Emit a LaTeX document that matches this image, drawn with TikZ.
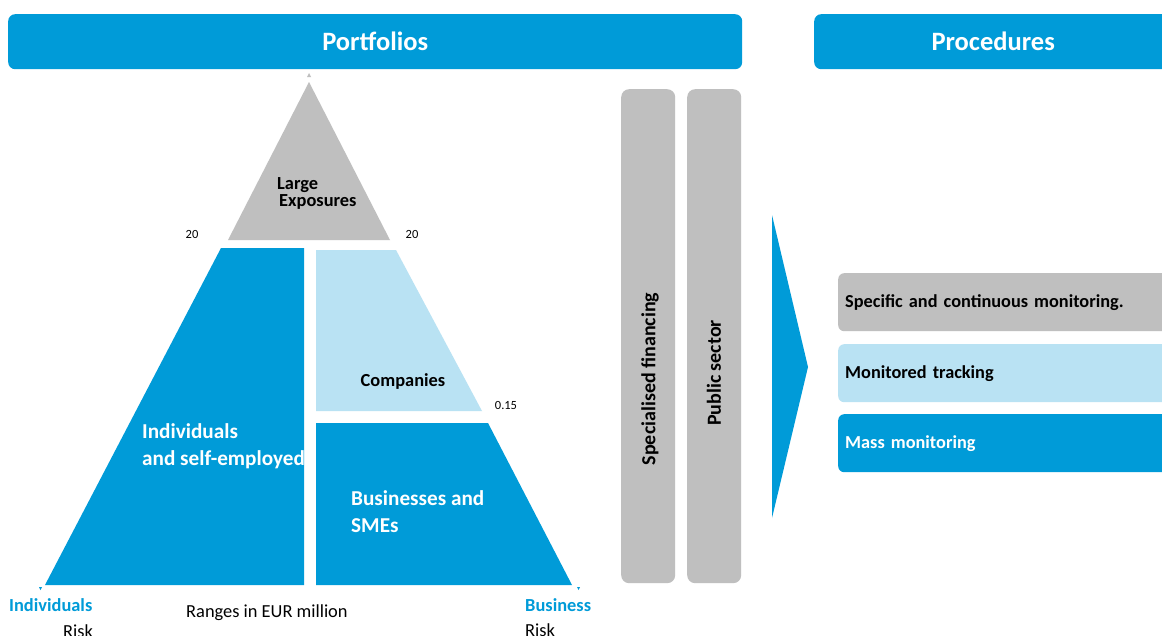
\documentclass[tikz,border=0pt]{standalone}
\usepackage{fontspec}
\setmainfont{Carlito}
\definecolor{mblue}{RGB}{0,155,216}
\definecolor{lblue}{RGB}{185,226,243}
\definecolor{mgray}{RGB}{191,191,191}
\begin{document}
\begin{tikzpicture}[x=1pt,y=-1pt,
  hdr/.style={fill=mblue, rounded corners=7pt, draw=none, text=white,
    font=\bfseries\fontsize{26.5}{30}\selectfont, inner sep=0pt},
  vbar/.style={fill=mgray, rounded corners=8pt, draw=none, inner sep=0pt,
    minimum width=54pt, minimum height=494pt, anchor=north west},
  vlabel/.style={rotate=90, font=\bfseries\fontsize{20}{24}\selectfont, inner sep=0pt},
  proc/.style={rounded corners=6pt, draw=none, anchor=north west, align=left,
    text width=326pt, inner xsep=7pt, inner ysep=0pt, minimum height=58pt,
    font=\bfseries\fontsize{18.3}{22}\selectfont},
  seglabel/.style={font=\bfseries\fontsize{18.4}{21}\selectfont, align=left, inner sep=0pt},
  biglabel/.style={font=\bfseries\fontsize{21.2}{27}\selectfont, align=left, inner sep=0pt, text=white},
  num/.style={font=\fontsize{12.5}{14}\selectfont, inner sep=0pt},
  axis/.style={font=\bfseries\fontsize{18.4}{21}\selectfont, text=mblue, inner sep=0pt},
  plain/.style={font=\fontsize{18.4}{21}\selectfont, inner sep=0pt}]
\clip (0,0) rectangle (1162,635);
\fill[white] (0,0) rectangle (1162,635);
% headers
\node[hdr, minimum width=734pt, minimum height=55pt, anchor=north west] (port) at (8,14) {Portfolios};
\node[hdr, minimum width=358pt, minimum height=55pt, anchor=north west] (proch) at (814,14) {Procedures};
% pyramid
\fill[mgray] (309,73) -- (311,77) -- (307,77) -- cycle;
\fill[mgray] (309,82) -- (390,240) -- (228,240) -- cycle;
\fill[mblue] (221,248) -- (304,248) -- (304,585) -- (45,585) -- cycle;
\fill[lblue] (316,250) -- (396,250) -- (482,411) -- (316,411) -- cycle;
\fill[mblue] (316,423) -- (488,423) -- (572,585) -- (316,585) -- cycle;
\fill[mblue] (39,587) -- (42,587) -- (40.5,590) -- cycle;
\fill[mblue] (577,587) -- (580,587) -- (578.5,590) -- cycle;
\node[seglabel, anchor=west] (large) at (277,193) {Large\\[-4pt]\hspace*{2pt}Exposures};
\node[seglabel, anchor=center] (comp) at (403,381) {Companies};
\node[biglabel, anchor=west] (indiv) at (142,446) {Individuals\\and self-employed};
\node[biglabel, anchor=west] (busi) at (351,512) {Businesses and\\SMEs};
\node[num] (n20a) at (192,234) {20};
\node[num] (n20b) at (412,234) {20};
\node[num] (n015) at (506,405) {0.15};
% axis labels
\node[axis, anchor=west] (indl) at (9,605) {Individuals};
\node[plain, anchor=west] (riskl) at (63,631) {Risk};
\node[plain, anchor=west] (ranges) at (186,613) {Ranges in EUR million};
\node[axis, anchor=west] (busl) at (525,605) {Business};
\node[plain, anchor=west] (riskr) at (525,630) {Risk};
% vertical bars
\node[vbar] (spec) at (621,89) {};
\node[vbar] (pub) at (687,89) {};
\node[vlabel] (specl) at (650,379) {Specialised financing};
\node[vlabel] (publ) at (714,373) {Public sector};
% chevron
\fill[mblue] (772,215) -- (808,367) -- (772,518) -- cycle;
% procedure boxes
\node[proc, fill=mgray] (p1) at (838,273) {Specific and continuous monitoring.};
\node[proc, fill=lblue] (p2) at (838,344) {Monitored tracking};
\node[proc, fill=mblue, text=white] (p3) at (838,414) {Mass monitoring};
\end{tikzpicture}
\end{document}
